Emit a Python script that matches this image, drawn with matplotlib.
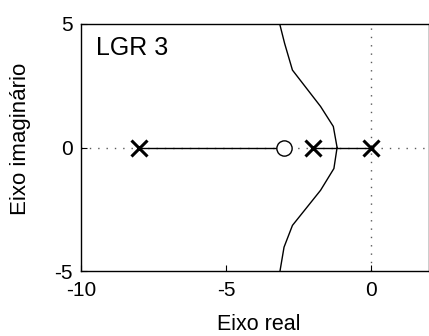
import matplotlib
matplotlib.use("Agg")
import matplotlib.pyplot as plt

plt.rcParams['font.family'] = ['Liberation Sans', 'DejaVu Sans']
plt.rcParams['axes.unicode_minus'] = False

# Data
poles_re = [-8, -2, 0]
poles_im = [0, 0, 0]
zeros_re = [-3]
zeros_im = [0]

# real-axis locus segments
seg1_re = [-8, -3]
seg2_re = [-2, 0]

# complex branch (upper)
upper_re = [-1.17, -1.30, -1.74, -2.71, -2.98, -3.15]
upper_im = [0.0, 0.85, 1.66, 3.13, 4.21, 5.0]
# lower branch
lower_re = [-1.17, -1.28, -1.74, -2.71, -3.0, -3.14]
lower_im = [0.0, -0.85, -1.73, -3.15, -4.03, -5.0]

xticks = [-10, -5, 0]
yticks = [-5, 0, 5]

fig = plt.figure(figsize=(4.29, 3.36), dpi=100)
ax = fig.add_axes([0.189, 0.193, 0.811, 0.736])

ax.axhline(0, color='0.35', ls=(0, (1, 5)), lw=1.0, zorder=1)
ax.axvline(0, color='0.35', ls=(0, (1, 5)), lw=1.0, zorder=1)

ax.plot(seg1_re, [0, 0], color='black', lw=1.0, zorder=2)
ax.plot(seg2_re, [0, 0], color='black', lw=1.0, zorder=2)
ax.plot(upper_re, upper_im, color='black', lw=1.0, zorder=2)
ax.plot(lower_re, lower_im, color='black', lw=1.0, zorder=2)

ax.plot(poles_re, poles_im, ls='none', marker='x', ms=11, mew=2.2, color='black', zorder=3)
ax.plot(zeros_re, zeros_im, ls='none', marker='o', ms=11, mfc='white', mec='black', mew=1.0, zorder=3)

ax.set_xlim(-10, 2)
ax.set_ylim(-5, 5)
ax.set_xticks(xticks)
ax.set_yticks(yticks)
ax.tick_params(direction='in', length=4, labelsize=15)
ax.tick_params(axis='x', pad=7)
ax.tick_params(axis='y', pad=6)
for s in ax.spines.values():
    s.set_linewidth(1.0)

ax.set_xlabel('Eixo real', fontsize=15.5)
ax.set_ylabel('Eixo imaginário', fontsize=16)
ax.xaxis.set_label_coords(0.51, -0.172)
ax.yaxis.set_label_coords(-0.145, 0.536)

ax.text(-9.48, 4.04, 'LGR 3', fontsize=18, va='center', ha='left')

fig.savefig('out.png', dpi=100)
